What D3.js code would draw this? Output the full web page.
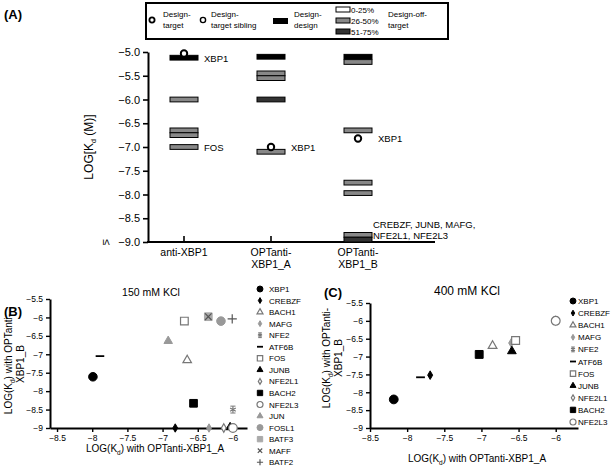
<!DOCTYPE html>
<html>
<head>
<meta charset="utf-8">
<script src="https://cdn.jsdelivr.net/npm/d3@7"></script>
<style>
  body { margin: 0; background: #fff; }
  svg { font-family: "Liberation Sans", Arial, sans-serif; }
</style>
</head>
<body>
<svg id="chart" width="611" height="467"></svg>
<script>
// panel A data
const catsA = ["anti-XBP1", "OPTanti-XBP1_A", "OPTanti-XBP1_B"];
const barCat = [0, 0, 0, 0, 0, 1, 1, 1, 1, 1, 2, 2, 2, 2, 2, 2, 2];
const barValue = [-5.12, -6.0, -6.65, -6.75, -7.0, -5.1, -5.45, -5.55, -6.0, -7.1, -5.1, -5.21, -6.65, -7.75, -7.97, -8.85, -8.95];
const barType = ["design", "off50", "off50", "off50", "off50", "design", "off50", "off50", "off75", "off50", "design", "off50", "off50", "off50", "off50", "off50", "off75"];
const targetCat = [0, 1, 2];
const targetValue = [-5.03, -7.0, -6.82];
const noteCat = [0, 0, 1, 2];
const noteValue = [-5.12, -7.0, -7.0, -6.82];
const noteText = ["XBP1", "FOS", "XBP1", "XBP1"];
const ticksA = [-9, -8.5, -8, -7.5, -7, -6.5, -6, -5.5, -5];

// panel B data (150 mM KCl)
const genesB = ["XBP1", "CREBZF", "BACH1", "MAFG", "NFE2", "ATF6B", "FOS", "JUNB", "NFE2L1", "BACH2", "NFE2L3", "JUN", "FOSL1", "BATF3", "MAFF", "BATF2"];
const xB = [-7.99, -6.82, -6.65, -6.34, -6.0, -7.89, -6.69, -6.04, -6.13, -6.56, -6.0, -6.92, -6.17, -6.35, -6.35, -6.01];
const yB = [-7.61, -9.0, -7.16, -9.0, -8.5, -7.05, -6.1, -8.98, -9.0, -8.33, -9.0, -6.64, -6.1, -5.98, -5.98, -6.04];

// panel C data (400 mM KCl)
const genesC = ["XBP1", "CREBZF", "BACH1", "MAFG", "NFE2", "ATF6B", "FOS", "JUNB", "NFE2L1", "BACH2", "NFE2L3"];
const xC = [-8.18, -7.69, -6.85, -6.6, -6.0, -7.82, -6.54, -6.59, -6.0, -7.03, -6.0];
const yC = [-8.2, -7.52, -6.7, -6.62, -6.0, -7.58, -6.55, -6.85, -6.0, -6.94, -6.0];
const ticksXY = [-9, -8.5, -8, -7.5, -7, -6.5, -6, -5.5];
const ticksX = [-8.5, -8, -7.5, -7, -6.5, -6];

const markerStyle = {
  XBP1:   { shape: "circle",   fill: "#000", stroke: "#000" },
  CREBZF: { shape: "diamond",  fill: "#000", stroke: "#000" },
  BACH1:  { shape: "triangle", fill: "#fff", stroke: "#777" },
  MAFG:   { shape: "diamond",  fill: "#999", stroke: "#999" },
  NFE2:   { shape: "asterisk", fill: "none", stroke: "#777" },
  ATF6B:  { shape: "dash",     fill: "none", stroke: "#000" },
  FOS:    { shape: "square",   fill: "#fff", stroke: "#777" },
  JUNB:   { shape: "triangle", fill: "#000", stroke: "#000" },
  NFE2L1: { shape: "diamond",  fill: "#fff", stroke: "#777" },
  BACH2:  { shape: "square",   fill: "#000", stroke: "#000" },
  NFE2L3: { shape: "circle",   fill: "#fff", stroke: "#777" },
  JUN:    { shape: "triangle", fill: "#999", stroke: "#999" },
  FOSL1:  { shape: "circle",   fill: "#999", stroke: "#999" },
  BATF3:  { shape: "square",   fill: "#aaa", stroke: "#aaa" },
  MAFF:   { shape: "x",        fill: "none", stroke: "#555" },
  BATF2:  { shape: "plus",     fill: "none", stroke: "#555" }
};

const svg = d3.select("#chart");

// ---------- panel A ----------
const gA = svg.append("g");
const xA = d3.scalePoint().domain(d3.range(catsA.length)).range([184, 358]);
const yA = d3.scaleLinear().domain([-9, -5]).range([242, 52]);
const barW = 28;
const barH = yA(-5.1) - yA(-5.0);
const fillOf = { design: "#000", off25: "#fff", off50: "#888", off75: "#333" };

gA.append("text").attr("x", 4).attr("y", 19).attr("font-size", 13).attr("font-weight", "bold").text("(A)");

// y axis
const axA = gA.append("g").attr("transform", "translate(148,0)")
  .call(d3.axisLeft(yA).tickValues(ticksA).tickFormat(d3.format(".1f")).tickSize(5).tickSizeOuter(0));
axA.select(".domain").attr("stroke-width", 2);
axA.selectAll(".tick line").attr("stroke-width", 1.6);
axA.selectAll(".tick text").attr("font-size", 11).attr("fill", "#000").attr("font-family", "Liberation Sans, Arial");
gA.append("text").attr("transform", "translate(103,242) rotate(90)")
  .attr("font-size", 11).attr("text-anchor", "middle").text("≤");
gA.append("text").attr("transform", "translate(93,147) rotate(-90)")
  .attr("font-size", 12).attr("text-anchor", "middle")
  .html('LOG[K<tspan font-size="7" dy="3">d</tspan><tspan dy="-3"> (M)]</tspan>');

// x axis
gA.append("line").attr("x1", 147).attr("x2", 435).attr("y1", yA(-9)).attr("y2", yA(-9))
  .attr("stroke", "#000").attr("stroke-width", 2);
catsA.forEach((c, i) => {
  gA.append("line").attr("x1", xA(i)).attr("x2", xA(i)).attr("y1", yA(-9)).attr("y2", yA(-9) - 6)
    .attr("stroke", "#000").attr("stroke-width", 1.6);
  const parts = c.startsWith("OPT") ? ["OPTanti-", c.slice(8)] : [c];
  parts.forEach((p, k) => {
    gA.append("text").attr("x", xA(i)).attr("y", 256 + k * 12).attr("text-anchor", "middle")
      .attr("font-size", 10.5).text(p);
  });
});

// bars
gA.selectAll(".bar").data(barValue).enter().append("rect")
  .attr("x", (d, i) => xA(barCat[i]) - barW / 2)
  .attr("y", d => yA(d) - barH / 2)
  .attr("width", barW).attr("height", barH)
  .attr("fill", (d, i) => fillOf[barType[i]])
  .attr("stroke", "#000").attr("stroke-width", 1);

gA.selectAll(".tgt").data(targetValue).enter().append("circle")
  .attr("cx", (d, i) => xA(targetCat[i])).attr("cy", d => yA(d))
  .attr("r", 3.2).attr("fill", "#fff").attr("stroke", "#000").attr("stroke-width", 2);

gA.selectAll(".note").data(noteText).enter().append("text")
  .attr("x", (d, i) => xA(noteCat[i]) + 20)
  .attr("y", (d, i) => yA(noteValue[i]) + 4)
  .attr("font-size", 9.5).text(d => d);
gA.append("text").attr("x", 373).attr("y", 228).attr("font-size", 9.5).text("CREBZF, JUNB, MAFG,");
gA.append("text").attr("x", 373).attr("y", 239).attr("font-size", 9.5).text("NFE2L1, NFE2L3");

// legend A
const lg = gA.append("g");
lg.append("rect").attr("x", 146).attr("y", 3).attr("width", 302).attr("height", 36)
  .attr("fill", "#fff").attr("stroke", "#000").attr("stroke-width", 2);
lg.append("circle").attr("cx", 152).attr("cy", 20).attr("r", 2.6).attr("fill", "#fff").attr("stroke", "#000").attr("stroke-width", 1.8);
lg.append("circle").attr("cx", 203).attr("cy", 20).attr("r", 2.6).attr("fill", "#fff").attr("stroke", "#000").attr("stroke-width", 1.4);
lg.append("rect").attr("x", 273).attr("y", 18).attr("width", 15).attr("height", 6).attr("fill", "#000");
[["Design-", "target", 163], ["Design-", "target sibling", 211], ["Design-", "design", 294], ["Design-off-", "target", 388]]
  .forEach(t => {
    lg.append("text").attr("x", t[2]).attr("y", 17).attr("font-size", 8).text(t[0]);
    lg.append("text").attr("x", t[2]).attr("y", 28).attr("font-size", 8).text(t[1]);
  });
[["off25", "0-25%"], ["off50", "26-50%"], ["off75", "51-75%"]].forEach((t, i) => {
  lg.append("rect").attr("x", 336).attr("y", 7 + i * 11).attr("width", 14).attr("height", 5)
    .attr("fill", fillOf[t[0]]).attr("stroke", "#000").attr("stroke-width", 1);
  lg.append("text").attr("x", 351).attr("y", 13 + i * 11).attr("font-size", 8).text(t[1]);
});

// ---------- marker helper ----------
function drawMarker(g, gene, cx, cy, s) {
  const st = markerStyle[gene];
  const t = `translate(${cx},${cy})`;
  if (st.shape === "dash") {
    g.append("line").attr("x1", cx - s).attr("x2", cx + s).attr("y1", cy).attr("y2", cy)
      .attr("stroke", st.stroke).attr("stroke-width", 1.8);
    return;
  }
  if (st.shape === "x" || st.shape === "plus" || st.shape === "asterisk") {
    const type = st.shape === "x" ? d3.symbolX : st.shape === "plus" ? d3.symbolPlus : d3.symbolAsterisk;
    g.append("path").attr("transform", t).attr("d", d3.symbol(type, s * s * 1.6)())
      .attr("fill", "none").attr("stroke", st.stroke).attr("stroke-width", 1.2);
    if (st.shape === "asterisk") {
      g.append("line").attr("x1", cx - s * 0.6).attr("x2", cx + s * 0.6).attr("y1", cy - s * 0.8).attr("y2", cy - s * 0.8)
        .attr("stroke", st.stroke).attr("stroke-width", 1);
      g.append("line").attr("x1", cx - s * 0.6).attr("x2", cx + s * 0.6).attr("y1", cy + s * 0.8).attr("y2", cy + s * 0.8)
        .attr("stroke", st.stroke).attr("stroke-width", 1);
    }
    return;
  }
  const types = { circle: d3.symbolCircle, diamond: d3.symbolDiamond, triangle: d3.symbolTriangle, square: d3.symbolSquare };
  const area = { circle: 3.14 * s * s, diamond: s * s * 1.1, triangle: s * s * 1.7, square: s * s * 3.2 }[st.shape];
  g.append("path").attr("transform", t).attr("d", d3.symbol(types[st.shape], area)())
    .attr("fill", st.fill).attr("stroke", st.stroke).attr("stroke-width", st.fill === "#fff" ? 1.2 : 1);
}

function scatterPanel(opt) {
  const g = svg.append("g");
  const x = d3.scaleLinear().domain(opt.xDom).range(opt.xRange);
  const y = d3.scaleLinear().domain([-9, -5.5]).range(opt.yRange);

  g.append("text").attr("x", opt.tagX).attr("y", opt.tagY).attr("font-size", 13).attr("font-weight", "bold").text(opt.tag);
  g.append("text").attr("x", opt.titleX).attr("y", opt.titleY).attr("font-size", opt.titleSize).attr("text-anchor", "middle").text(opt.title);

  const ay = g.append("g").attr("transform", `translate(${opt.xRange[0]},0)`)
    .call(d3.axisLeft(y).tickValues(ticksXY).tickFormat(d3.format("")).tickSize(4).tickSizeOuter(0));
  const ax = g.append("g").attr("transform", `translate(0,${opt.yRange[0]})`)
    .call(d3.axisBottom(x).tickValues(ticksX).tickFormat(d3.format("")).tickSize(4).tickSizeOuter(0));
  [ax, ay].forEach(a => {
    a.select(".domain").attr("stroke-width", 2);
    a.selectAll(".tick line").attr("stroke-width", 1.4);
    a.selectAll(".tick text").attr("font-size", 8.5).attr("fill", "#000").attr("font-family", "Liberation Sans, Arial");
  });

  g.append("text").attr("x", opt.xLabelX).attr("y", opt.xLabelY).attr("font-size", 10).attr("text-anchor", "middle")
    .html('LOG(K<tspan font-size="6.5" dy="3">d</tspan><tspan dy="-3">) with OPTanti-XBP1_A</tspan>');
  g.append("text").attr("transform", `translate(${opt.yLabelX},${opt.yLabelY}) rotate(-90)`)
    .attr("font-size", 10).attr("text-anchor", "middle")
    .html('LOG(K<tspan font-size="6.5" dy="3">d</tspan><tspan dy="-3">) with OPTanti-</tspan>');
  g.append("text").attr("transform", `translate(${opt.yLabelX + 12},${opt.yLabelY}) rotate(-90)`)
    .attr("font-size", 10).attr("text-anchor", "middle").text("XBP1_B");

  opt.genes.forEach((gene, i) => drawMarker(g, gene, x(opt.xs[i]), y(opt.ys[i]), opt.ms));

  opt.genes.forEach((gene, i) => {
    const ly = opt.legY + i * opt.legStep;
    drawMarker(g, gene, opt.legX, ly, opt.legMs);
    g.append("text").attr("x", opt.legX + opt.legGap).attr("y", ly + 3).attr("font-size", 8).text(gene);
  });
}

scatterPanel({
  tag: "(B)", tagX: 4, tagY: 316, title: "150 mM KCl", titleX: 151, titleY: 296, titleSize: 10.5,
  xDom: [-8.6, -5.8], xRange: [50, 247], yRange: [428, 299],
  genes: genesB, xs: xB, ys: yB, ms: 4.3,
  xLabelX: 155, xLabelY: 452, yLabelX: 12, yLabelY: 364,
  legX: 260, legY: 289, legStep: 11.55, legMs: 3, legGap: 9
});

scatterPanel({
  tag: "(C)", tagX: 324, tagY: 297, title: "400 mM KCl", titleX: 467, titleY: 295, titleSize: 12,
  xDom: [-8.5, -5.7], xRange: [370, 578], yRange: [428, 303],
  genes: genesC, xs: xC, ys: yC, ms: 4.4,
  xLabelX: 477, xLabelY: 462, yLabelX: 330, yLabelY: 358,
  legX: 573, legY: 301, legStep: 12.1, legMs: 3, legGap: 5
});
</script>
</body>
</html>
